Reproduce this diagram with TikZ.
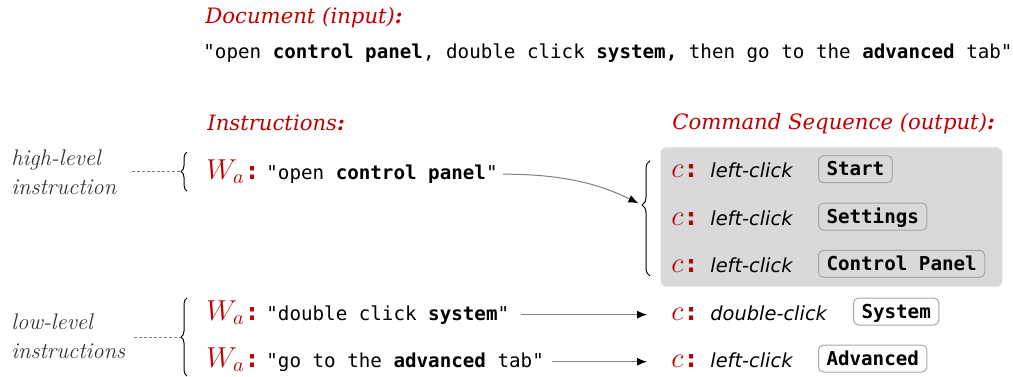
\documentclass[tikz,border=0pt]{standalone}
\usepackage{fontspec}
\setmonofont{DejaVu Sans Mono}
\setsansfont{DejaVu Sans}
\newfontfamily\headfont{DejaVu Serif}
\usetikzlibrary{arrows.meta, decorations.pathreplacing, positioning}

\definecolor{titlered}{HTML}{C00000}
\definecolor{panelgray}{HTML}{D9D9D9}
\definecolor{btnborder}{HTML}{A6A6A6}
\definecolor{sidegray}{HTML}{333333}

\newcommand{\instrfont}{\ttfamily\fontsize{9.6}{11}\selectfont}
\newcommand{\redcolon}{{\ttfamily\bfseries\fontsize{12.5}{14}\selectfont :}}

\tikzset{
	head/.style = {anchor = base west, inner sep = 0pt, text = titlered, font = \headfont\fontsize{10.6}{12}\selectfont\itshape},
	instr/.style = {anchor = base west, inner sep = 0pt, font = \instrfont},
	wlabel/.style = {anchor = base west, inner sep = 0pt, text = titlered, font = \fontsize{14}{16}\selectfont},
	act/.style = {anchor = base west, inner sep = 0pt, font = \sffamily\itshape\fontsize{9.7}{11}\selectfont},
	btn/.style = {anchor = base west, draw = btnborder, line width = 0.5pt, rounded corners = 2.5pt, font = \instrfont\bfseries, inner xsep = 4pt, inner ysep = 3pt, text height = 7pt, text depth = 0.5pt},
	sidelabel/.style = {anchor = west, inner sep = 0pt, align = left, text = sidegray, font = \fontsize{11.3}{14.5}\selectfont\itshape},
	sidedash/.style = {gray, line width = 0.4pt, dash pattern = on 1.5pt off 1pt},
	curly/.style = {decorate, decoration = {brace, amplitude = 3pt}, line width = 0.5pt},
	link/.style = {gray, line width = 0.5pt, ->, > = {Latex[length = 5pt, width = 4pt, black]}}
}

\begin{document}
\begin{tikzpicture}[x = 0.5pt, y = -0.5pt]

	\useasboundingbox (0, 0) rectangle (1013, 376);

	% The document

	\node [head] (dochead) at (205, 23.5) {Document (input)\textbf{:}};
	\node [instr] (doctext) at (203, 58.5) {"open \textbf{control panel}, double click \textbf{system,} then go to the \textbf{advanced} tab"};

	% Column heads

	\node [head] (insthead) at (207, 130) {Instructions\textbf{:}};
	\node [head] (cmdhead) at (672, 129.5) {Command Sequence (output)\textbf{:}};

	% The command panel

	\draw [fill = panelgray, draw = none, rounded corners = 3pt] (660.5, 147.3) rectangle (1002.3, 286.7);

	\foreach \n/\y/\act/\btn/\bx in {1/177.7/left-click/Start/818, 2/225/left-click/Settings/818, 3/272.3/left-click/Control Panel/818, 4/320/double-click/System/853, 5/367/left-click/Advanced/818}
	{
		\node [wlabel] (cmd\n) at (671, \y) {$c$\redcolon};
		\node [act] (act\n) at (710, \y) {\act};
		\node [btn] (btn\n) at (\bx, \y - 2) {\btn};
	}

	% Instructions

	\node [wlabel] (wa1) at (206, 179.5) {$W_a$\redcolon};
	\node [wlabel] (wa2) at (206, 320) {$W_a$\redcolon};
	\node [wlabel] (wa3) at (206, 367) {$W_a$\redcolon};

	\node [instr] (ins1) at (266, 179.5) {"open \textbf{control panel}"};
	\node [instr] (ins2) at (266, 320) {"double click \textbf{system}"};
	\node [instr] (ins3) at (266, 367) {"go to the \textbf{advanced} tab"};

	% Instruction levels

	\node [sidelabel] (highlvl) at (11, 172) {high-level\\instruction};
	\node [sidelabel] (lowlvl) at (11, 336) {low-level\\instructions};

	\coordinate (hightop) at (187, 152);
	\coordinate (highbot) at (187, 191);
	\coordinate (hightip) at (181, 171.5);
	\coordinate (lowtop) at (187, 298);
	\coordinate (lowbot) at (187, 376);
	\coordinate (lowtip) at (181, 337);
	\coordinate (cmdtop) at (650, 160.7);
	\coordinate (cmdbot) at (650, 276);
	\coordinate (cmdtip) at (642, 205);

	\draw [curly] (highbot) -- (hightop);
	\draw [curly] (lowbot) -- (lowtop);
	\draw [curly, decoration = {brace, amplitude = 4pt, aspect = 0.616}] (cmdbot) -- (cmdtop);

	\draw [sidedash, shorten < = 7.5pt] (highlvl.east |- hightip) -- (hightip);
	\draw [sidedash, shorten < = 4pt] (lowlvl.east |- lowtip) -- (lowtip);

	% The links

	\draw [link, shorten < = 2.5pt, shorten > = 2pt] (ins1.east) .. controls (570, 174) and (605, 187) .. (cmdtip);
	\draw [link, shorten < = 5.5pt, shorten > = 12pt] (ins2.east) -- (ins2.east -| cmd4.west);
	\draw [link, shorten < = 4pt, shorten > = 12pt] (ins3.east) -- (ins3.east -| cmd5.west);

\end{tikzpicture}
\end{document}
